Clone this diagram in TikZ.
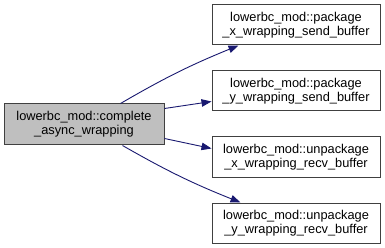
\documentclass[tikz,border=0pt]{standalone}
\usepackage{fontspec}
\setmainfont{Liberation Sans}
\usetikzlibrary{arrows.meta}
\definecolor{edgeblue}{HTML}{191970}
\definecolor{boxline}{HTML}{404040}
\definecolor{rootfill}{HTML}{BFBFBF}
\tikzset{
  fn/.style={draw=boxline, line width=1pt, fill=white, align=center,
    inner sep=0pt, font=\fontsize{12.8}{14}\selectfont},
  root/.style={fn, fill=rootfill, minimum width=160pt, minimum height=41pt},
  callee/.style={fn, minimum width=168pt, minimum height=40pt},
  call/.style={draw=edgeblue, line width=0.9pt,
    -{Triangle[length=10pt,width=7.5pt,fill=edgeblue]}}
}
\begin{document}
\begin{tikzpicture}[x=1pt,y=1pt]
\useasboundingbox (0,0) rectangle (385,-248);
% caller
\node[root] (L) at (84,-124.5) {lowerbc\_mod::complete\\\_async\_wrapping};
% callees
\node[callee] (R1) at (296,-25)  {lowerbc\_mod::package\\\_x\_wrapping\_send\_buffer};
\node[callee] (R2) at (296,-91)  {lowerbc\_mod::package\\\_y\_wrapping\_send\_buffer};
\node[callee] (R3) at (296,-157) {lowerbc\_mod::unpackage\\\_x\_wrapping\_recv\_buffer};
\node[callee] (R4) at (296,-223) {lowerbc\_mod::unpackage\\\_y\_wrapping\_recv\_buffer};
% calls
\draw[call] ([xshift=117pt]L.north west) to[bend left=4] ([xshift=27pt]R1.south west);
\draw[call] ([yshift=-5pt]L.north east) -- ([yshift=10pt]R2.south west);
\draw[call] ([yshift=7pt]L.south east) -- ([yshift=-12pt]R3.north west);
\draw[call] ([xshift=119pt]L.south west) to[bend right=4] ([xshift=29pt]R4.north west);
\end{tikzpicture}
\end{document}
